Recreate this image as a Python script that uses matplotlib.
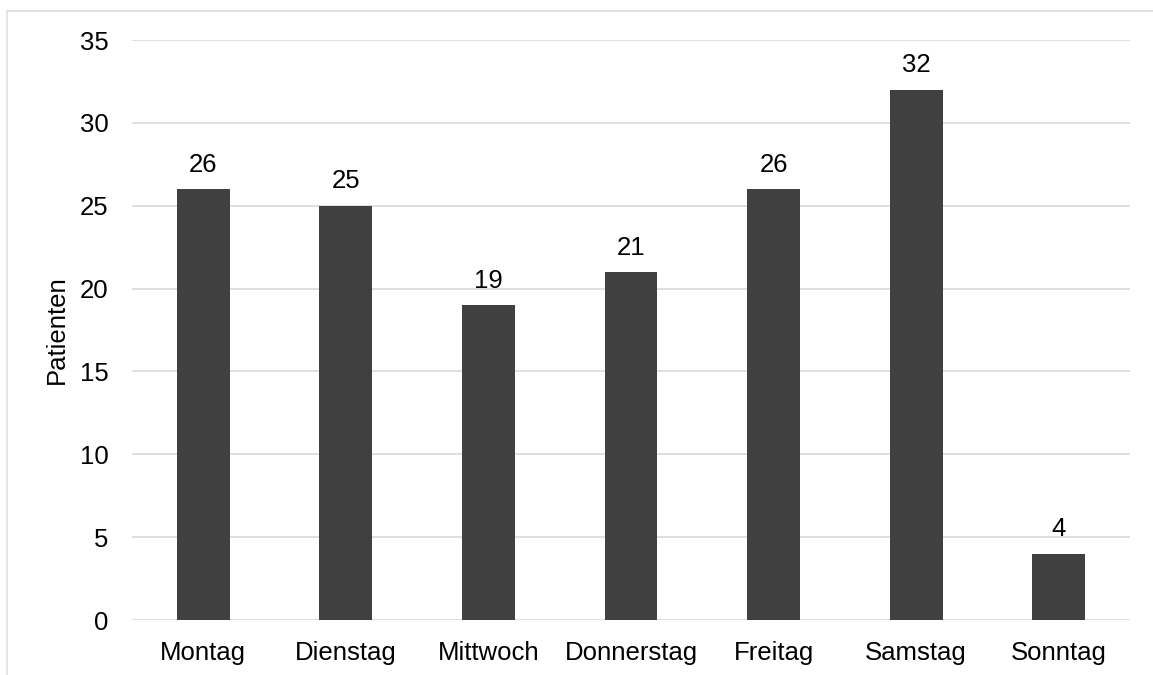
import matplotlib
matplotlib.use("Agg")
import matplotlib.pyplot as plt
from matplotlib.lines import Line2D

days = ["Montag", "Dienstag", "Mittwoch", "Donnerstag", "Freitag", "Samstag", "Sonntag"]
patients = [26, 25, 19, 21, 26, 32, 4]
y_ticks = [0, 5, 10, 15, 20, 25, 30, 35]

plt.rcParams["font.family"] = ["Liberation Sans", "DejaVu Sans"]
FS = 18.5

W, H = 1153, 675
fig = plt.figure(figsize=(W / 100, H / 100), dpi=100)
ax = fig.add_axes([132 / W, 1 - 620 / H, (1130 - 132) / W, (620 - 40) / H])

x = range(len(days))
ax.bar(x, patients, width=0.37, color="#404040", zorder=3)
for xi, v in zip(x, patients):
    ax.annotate(str(v), (xi, v), xytext=(0, 9), textcoords="offset points",
                ha="center", va="bottom", fontsize=FS, color="#000000")

ax.set_xlim(-0.5, len(days) - 0.5)
ax.set_ylim(0, 35)
ax.set_yticks(y_ticks)
ax.set_xticks(list(x))
ax.set_xticklabels(days)
ax.tick_params(axis="both", length=0, labelsize=FS, colors="#000000")
ax.tick_params(axis="y", pad=17)
ax.tick_params(axis="x", pad=15)
ax.grid(axis="y", color="#d9dde3", linewidth=1.3, zorder=0)
for s in ax.spines.values():
    s.set_visible(False)
ax.set_ylabel("Patienten", fontsize=FS, labelpad=8)

# chart area frame
fig.add_artist(Line2D([7 / W, 1.0], [1 - 11 / H, 1 - 11 / H], color="#d9d9d9", linewidth=1.2))
fig.add_artist(Line2D([7 / W, 7 / W], [0, 1 - 11 / H], color="#dde3ea", linewidth=1.2))

fig.savefig("out.png", dpi=100, facecolor="white")
